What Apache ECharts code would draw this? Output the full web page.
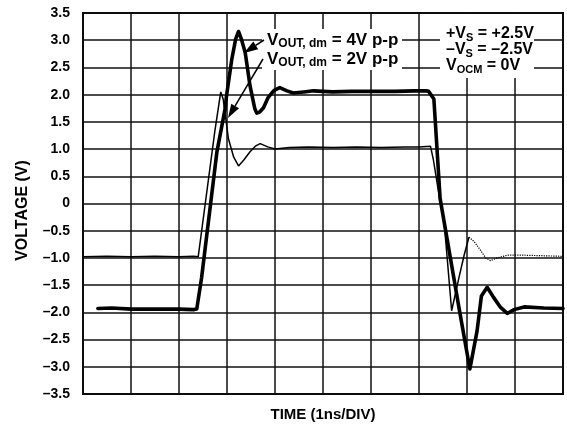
<!DOCTYPE html>
<html>
<head>
<meta charset="utf-8">
<script src="https://cdn.jsdelivr.net/npm/echarts/dist/echarts.min.js"></script>
<style>
  html, body { margin: 0; padding: 0; background: #fff; }
  #main { width: 567px; height: 427px; }
</style>
</head>
<body>
<div id="main"></div>
<script>
// time in divisions (1ns/DIV), voltage in V
var yTicks = [3.5, 3.0, 2.5, 2.0, 1.5, 1.0, 0.5, 0, -0.5, -1.0, -1.5, -2.0, -2.5, -3.0, -3.5];

// VOUT,dm = 4V p-p (thick trace)
var out4v = [
  [0.31, -1.93], [0.6, -1.92], [1.0, -1.94], [1.5, -1.94], [2.0, -1.94], [2.3, -1.95], [2.37, -1.94],
  [2.47, -1.37], [2.79, 0.95], [2.96, 1.74], [2.99, 1.98], [3.10, 2.65], [3.18, 3.02], [3.24, 3.16],
  [3.30, 3.02], [3.38, 2.77], [3.48, 2.16], [3.58, 1.74], [3.62, 1.66], [3.68, 1.68], [3.76, 1.76],
  [3.86, 1.95], [3.98, 2.08], [4.1, 2.13], [4.25, 2.07], [4.38, 2.03], [4.6, 2.05], [4.8, 2.07],
  [5.2, 2.05], [5.6, 2.06], [6.0, 2.06], [6.5, 2.06], [6.9, 2.07], [7.15, 2.07], [7.2, 2.06],
  [7.31, 1.92], [7.44, 0.09], [7.85, -2.0], [8.06, -3.04], [8.21, -2.34], [8.30, -1.70],
  [8.42, -1.54], [8.55, -1.72], [8.70, -1.91], [8.84, -2.02], [8.98, -1.95], [9.19, -1.90],
  [9.6, -1.92], [10, -1.93]
];

// VOUT,dm = 2V p-p (thin trace)
var out2v = [
  [0, -0.98], [0.5, -0.97], [1.0, -0.98], [1.5, -0.97], [2.0, -0.98], [2.3, -0.97], [2.40, -0.98],
  [2.75, 1.35], [2.87, 2.05], [2.92, 1.92], [3.03, 1.19], [3.14, 0.85], [3.24, 0.69], [3.35, 0.80],
  [3.48, 0.95], [3.60, 1.06], [3.69, 1.10], [3.85, 1.04], [4.0, 1.0], [4.3, 1.03], [4.7, 1.04],
  [5.2, 1.03], [5.7, 1.04], [6.2, 1.03], [6.7, 1.04], [7.0, 1.04], [7.24, 1.05], [7.30, 0.80],
  [7.43, 0.09], [7.52, -0.30], [7.68, -1.97], [7.83, -1.37], [7.94, -0.95], [8.04, -0.62]
];
// noisy tail of the thin trace
var out2vTail = [
  [8.04, -0.62], [8.15, -0.70], [8.25, -0.82], [8.39, -1.00], [8.49, -1.05], [8.63, -1.00],
  [8.84, -0.95], [9.19, -0.95], [9.6, -0.96], [9.95, -0.97], [10, -0.97]
];

var FONT = '"Liberation Sans", Arial, sans-serif';

var myChart = echarts.init(document.getElementById('main'));

function fmt(v) {
  if (Math.abs(v) < 1e-9) return '0';
  return v.toFixed(1).replace('-', '\u2013');
}

myChart.setOption({
  backgroundColor: '#fff',
  animation: false,
  grid: {
    left: 83, right: 4, top: 13, bottom: 30,
    show: true, borderColor: '#000', borderWidth: 2
  },
  xAxis: {
    type: 'value', min: 0, max: 10, interval: 1,
    name: 'TIME (1ns/DIV)',
    nameLocation: 'middle', nameGap: 13,
    nameTextStyle: { fontFamily: FONT, fontWeight: 'bold', fontSize: 15, color: '#000' },
    axisLine: { show: false },
    axisTick: { show: false },
    axisLabel: { show: false },
    splitLine: { show: true, lineStyle: { color: '#111', width: 1.5 } }
  },
  yAxis: {
    type: 'value', min: -3.5, max: 3.5, interval: 0.5,
    name: 'VOLTAGE (V)',
    nameLocation: 'middle', nameGap: 52, nameRotate: 90,
    nameTextStyle: { fontFamily: FONT, fontWeight: 'bold', fontSize: 16, color: '#000', padding: [0, 0, 0, -14] },
    axisLine: { show: false },
    axisTick: { show: false },
    axisLabel: {
      margin: 13, formatter: fmt,
      fontFamily: FONT, fontWeight: 'bold', fontSize: 14, color: '#000'
    },
    splitLine: { show: true, lineStyle: { color: '#111', width: 1.5 } }
  },
  series: [
    {
      name: 'VOUT,dm = 2V p-p', type: 'line', data: out2v,
      showSymbol: false, smooth: false,
      lineStyle: { color: '#000', width: 1.5 }
    },
    {
      name: 'VOUT,dm = 2V p-p tail', type: 'line', data: out2vTail,
      showSymbol: false,
      lineStyle: { color: '#000', width: 1.2, type: [1.2, 1.2] }
    },
    {
      name: 'VOUT,dm = 4V p-p', type: 'line', data: out4v,
      showSymbol: false,
      lineStyle: { color: '#000', width: 3.6, join: 'round', cap: 'round' }
    }
  ]
});

// annotation arrows (pixel positions in the 567x427 frame)
function arrow(x1, y1, x2, y2) {
  var dx = x2 - x1, dy = y2 - y1, len = Math.sqrt(dx * dx + dy * dy);
  var ux = dx / len, uy = dy / len, hl = 14, hw = 4.5;
  var bx = x2 - ux * hl, by = y2 - uy * hl;
  return [
    { type: 'line', z: 20, shape: { x1: x1, y1: y1, x2: bx, y2: by }, style: { stroke: '#000', lineWidth: 1.5 } },
    { type: 'polygon', z: 20, shape: { points: [[x2, y2], [bx - uy * hw, by + ux * hw], [bx + uy * hw, by - ux * hw]] }, style: { fill: '#000' } }
  ];
}

var subRich = function (main, sub) {
  return {
    a: { fontFamily: FONT, fontWeight: 'bold', fontSize: main, color: '#000' },
    b: { fontFamily: FONT, fontWeight: 'bold', fontSize: sub, color: '#000', padding: [7, 0, 0, 0] }
  };
};

function label(x, y, text, main, sub) {
  return {
    type: 'text', z: 30, x: x, y: y,
    style: { text: text, rich: subRich(main, sub), verticalAlign: 'middle', align: 'left' }
  };
}

var g = [
  { type: 'rect', z: 15, shape: { x: 262, y: 29, width: 140, height: 41 }, style: { fill: '#fff' } },
  { type: 'rect', z: 15, shape: { x: 440, y: 14, width: 94, height: 64 }, style: { fill: '#fff' } },
  label(267, 40, '{a|V}{b|OUT, dm}{a| = 4V p-p}', 17, 12),
  label(267, 59, '{a|V}{b|OUT, dm}{a| = 2V p-p}', 17, 12),
  label(446, 34, '{a|+V}{b|S}{a| = +2.5V}', 16, 11),
  label(446, 50, '{a|\u2013V}{b|S}{a| = \u20132.5V}', 16, 11),
  label(446, 66, '{a|V}{b|OCM}{a| = 0V}', 16, 11)
];
g = g.concat(arrow(264, 40, 244, 53));
g = g.concat(arrow(263, 59, 228, 118));

myChart.setOption({ graphic: { elements: g } });
</script>
</body>
</html>
